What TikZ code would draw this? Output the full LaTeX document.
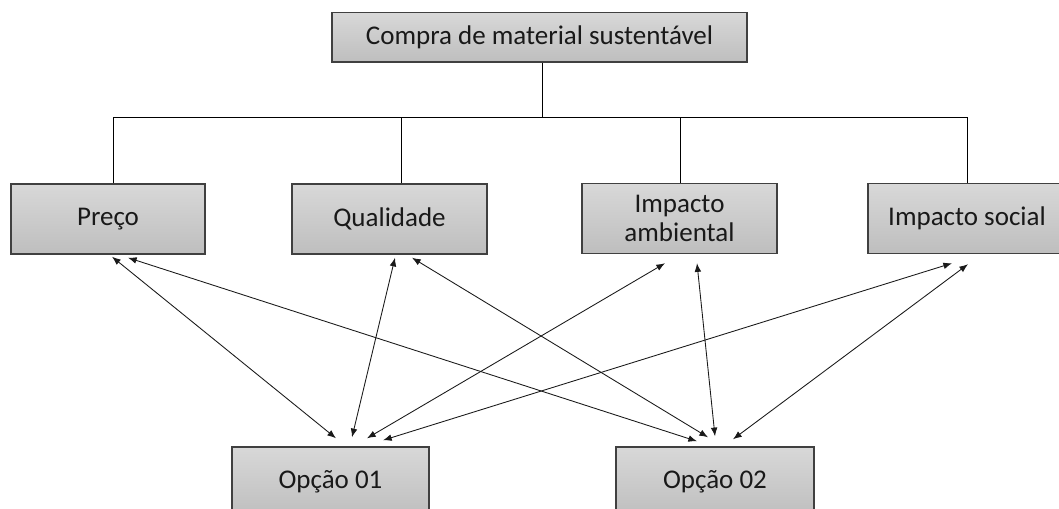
\documentclass[tikz,border=0pt]{standalone}
\usepackage{fontspec}
\setmainfont{Carlito}
\usepackage{tikz}
\usetikzlibrary{arrows.meta,calc}

\definecolor{boxtop}{RGB}{216,216,216}
\definecolor{boxbot}{RGB}{190,190,190}
\definecolor{boxedge}{RGB}{64,64,64}
\definecolor{inkgray}{RGB}{25,25,25}

\tikzset{
  critbox/.style={draw=boxedge, line width=1.1pt, top color=boxtop, bottom color=boxbot,
    minimum width=146.5pt, minimum height=52.5pt, inner sep=0pt, align=center,
    text=inkgray, font=\fontsize{20.25}{22}\selectfont},
  linkarrow/.style={{Latex[length=6.5pt,width=5pt]}-{Latex[length=6.5pt,width=5pt]},
    line width=0.65pt, draw=inkgray},
}

\begin{document}
\begin{tikzpicture}[x=0.75pt,y=0.75pt,yscale=-1,xscale=1]
\useasboundingbox (0,0) rectangle (1059,509);

%Boxes
\node [critbox, minimum width=311pt, minimum height=37pt] (compra) at (539.5,37.25) {Compra de material sustentável};
\node [critbox, minimum width=145.5pt] (preco) at (108,219) {Preço};
\node [critbox] (qualidade) at (389.5,219) {Qualidade};
\node [critbox] (ambiental) at (679.5,218.5) {Impacto\\ambiental};
\node [critbox, minimum width=148.5pt] (social) at (967,218.5) {Impacto social};
\node [critbox, minimum width=147.75pt] (opcao1) at (330.5,482) {Opção 01};
\node [critbox, minimum width=148.5pt] (opcao2) at (715,482) {Opção 02};

%Tree lines
\coordinate (bus) at (542,117.5);
\draw [line width=0.75pt] (compra.south -| bus) -- (bus);
\draw [line width=0.75pt] ($(preco.north)+(5,0)$) |- (bus);
\draw [line width=0.75pt] ($(qualidade.north)+(11.5,0)$) |- (bus);
\draw [line width=0.75pt] ($(ambiental.north)+(0.5,0)$) |- (bus);
\draw [line width=0.75pt] (social.north) |- (bus);

%Arrows to Opção 01
\draw [linkarrow] ($(preco.south)+(4,2)$) -- ($(opcao1.north)+(5.5,-8)$);
\draw [linkarrow] ($(qualidade.south)+(5.5,3)$) -- ($(opcao1.north)+(21.5,-9)$);
\draw [linkarrow] ($(ambiental.south)+(-14.5,9)$) -- ($(opcao1.north)+(36.5,-8)$);
\draw [linkarrow] ($(social.south)+(-15,9)$) -- ($(opcao1.north)+(52.5,-6)$);
%Arrows to Opção 02
\draw [linkarrow] ($(preco.south)+(20,3)$) -- ($(opcao2.north)+(-18,-5)$);
\draw [linkarrow] ($(qualidade.south)+(22.5,3)$) -- ($(opcao2.north)+(-7,-9)$);
\draw [linkarrow] ($(ambiental.south)+(17.5,9)$) -- ($(opcao2.north)+(0,-10)$);
\draw [linkarrow] ($(social.south)+(1,10)$) -- ($(opcao2.north)+(18,-7)$);

\end{tikzpicture}
\end{document}
